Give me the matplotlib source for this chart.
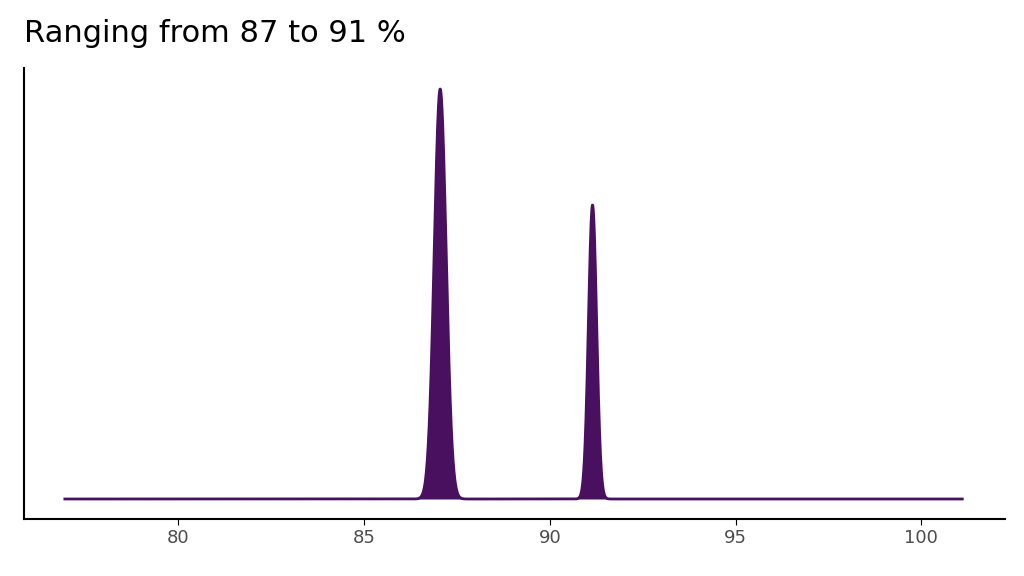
import numpy as np
import matplotlib.pyplot as plt

centers = [87.05, 91.15]
heights = [410, 294]
sds = [0.16, 0.11]
x_range = [76.95, 101.1]
ticks = [80, 85, 90, 95, 100]
title = "Ranging from 87 to 91 %"
color = "#48105F"

x = np.linspace(x_range[0], x_range[1], 4000)
y = np.zeros_like(x)
for c, h, s in zip(centers, heights, sds):
    y += h * np.exp(-0.5 * ((x - c) / s) ** 2)

fig = plt.figure(figsize=(10.24, 5.76), dpi=100)
ax = fig.add_axes([24/1024, 57/576, (1005-24)/1024, (519-68)/576])
ax.fill_between(x, 0, y, color=color, linewidth=0)
ax.plot(x, y, color=color, lw=2)
ax.set_xlim(75.85, 102.25)
ax.set_ylim(-20, 431)
ax.set_xticks(ticks)
ax.set_yticks([])
ax.tick_params(axis='x', labelsize=13, labelcolor='#4d4d4d', length=4)
for s in ['top', 'right']:
    ax.spines[s].set_visible(False)
for s in ['left', 'bottom']:
    ax.spines[s].set_linewidth(1.5)
fig.text(24/1024, 1 - 33/576, title, fontsize=22, va='center', ha='left')
fig.savefig("out.png", dpi=100)
